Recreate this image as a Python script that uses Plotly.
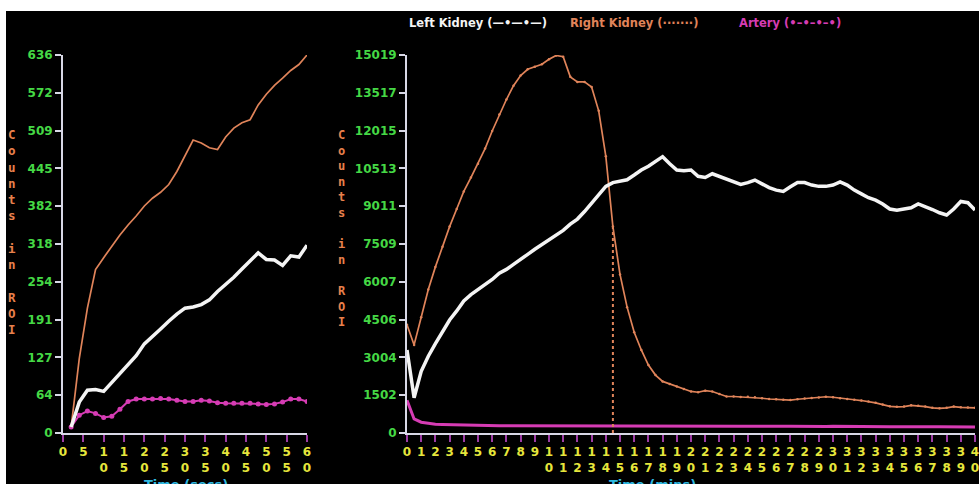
import plotly.graph_objects as go

# ---------------- data ----------------
# Left panel: first minute (seconds)
sec_times = [2 * i for i in range(1, 31)]  # 2..60 s
left_kidney_sec = [10, 52, 72, 73, 70, 85, 100, 115, 130, 150, 162, 175, 188, 200, 210,
                   212, 216, 224, 238, 250, 262, 276, 290, 303, 292, 291, 282, 298, 296, 316]
right_kidney_sec = [10, 125, 210, 275, 295, 315, 333, 350, 365, 382, 395, 405, 418, 440, 466,
                    493, 488, 480, 477, 498, 513, 522, 527, 552, 570, 585, 597, 610, 620, 636]
artery_sec = [10, 30, 37, 33, 26, 28, 40, 53, 57, 57, 57, 58, 57, 55, 53,
              53, 55, 54, 51, 50, 50, 50, 50, 49, 48, 49, 52, 57, 57, 53]

# Right panel: 0-40 minutes
min_times = [0.5 * i for i in range(81)]
left_kidney_min = [3300, 1400, 2450, 3050, 3550, 4050, 4490, 4850, 5250, 5500,
                   5700, 5880, 6100, 6350, 6500, 6700, 6880, 7100, 7300, 7480,
                   7650, 7850, 8050, 8300, 8500, 8800, 9150, 9500, 9800, 9950,
                   10000, 10060, 10250, 10450, 10600, 10800, 10980, 10700, 10450, 10420,
                   10450, 10200, 10150, 10300, 10200, 10100, 10000, 9880, 9950, 10050,
                   9900, 9750, 9650, 9600, 9780, 9950, 9950, 9850, 9800, 9800,
                   9850, 9980, 9850, 9650, 9500, 9350, 9250, 9100, 8900, 8850,
                   8900, 8950, 9100, 9000, 8880, 8750, 8660, 8900, 9200, 9150, 8860]
right_kidney_min = [4300, 3500, 4600, 5700, 6600, 7400, 8200, 8900, 9600, 10150,
                    10700, 11300, 12000, 12650, 13250, 13800, 14200, 14450, 14550, 14650,
                    14850, 15000, 14950, 14150, 13950, 13950, 13750, 12800, 11000, 8200,
                    6300, 5000, 4000, 3300, 2700, 2300, 2050, 1950, 1850, 1750,
                    1650, 1620, 1680, 1650, 1550, 1450, 1450, 1430, 1440, 1420,
                    1380, 1350, 1340, 1320, 1310, 1340, 1370, 1390, 1410, 1440,
                    1420, 1380, 1350, 1320, 1290, 1250, 1200, 1130, 1060, 1040,
                    1050, 1100, 1080, 1050, 1000, 980, 1000, 1050, 1020, 1010, 1000]
artery_min = [1300, 560, 430, 380, 350, 340, 330, 320, 310, 300,
              300, 295, 290, 290, 285, 285, 280, 285, 280, 275,
              280, 285, 290, 285, 280, 280, 275, 280, 285, 290,
              280, 275, 275, 270, 280, 290, 285, 280, 275, 270,
              275, 280, 275, 270, 300, 285, 275, 270, 265, 270,
              265, 260, 265, 270, 265, 260, 265, 260, 255, 260,
              265, 260, 255, 255, 260, 255, 250, 255, 250, 250,
              255, 250, 245, 250, 250, 245, 250, 245, 240, 245, 240]
marker_time = 14.5
marker_value = 8200

assert len(left_kidney_sec) == len(sec_times) == len(right_kidney_sec) == len(artery_sec)
assert len(left_kidney_min) == len(min_times) == len(right_kidney_min) == len(artery_min)

left_ymax = 636
right_ymax = 15019
left_yticks = [left_ymax * i / 10 for i in range(11)]
right_yticks = [right_ymax * i / 10 for i in range(11)]
left_ytext = ["0", "64", "127", "191", "254", "318", "382", "445", "509", "572", "636"]
right_ytext = ["0", "1502", "3004", "4506", "6007", "7509", "9011", "10513", "12015", "13517", "15019"]

left_xticks = list(range(0, 61, 5))
right_xticks = list(range(0, 41))


def two_row(n):
    s = str(n)
    return s if len(s) == 1 else s[0] + "<br>" + s[1]


left_xtext = [two_row(v) for v in left_xticks]
right_xtext = [two_row(v) for v in right_xticks]

# ---------------- styling ----------------
WHITE = "#f4f4f4"
ORANGE = "#e0845a"
MAGENTA = "#d63cb4"
GREEN = "#45d845"
YELLOW = "#e6e63c"
CYAN = "#2fb8e0"
TITLE_ORANGE = "#e8804c"
AXIS = "#d8d8e6"
XTICK = "#9c3ca4"

W, H = 979, 484


def px_x(x):
    return x / W


def px_y(y):
    return 1 - y / H


fig = go.Figure()

# left panel traces
fig.add_trace(go.Scatter(x=sec_times, y=artery_sec, mode="lines+markers",
                         line=dict(color=MAGENTA, width=2), marker=dict(color=MAGENTA, size=5),
                         xaxis="x", yaxis="y", showlegend=False))
fig.add_trace(go.Scatter(x=sec_times, y=right_kidney_sec, mode="lines",
                         line=dict(color=ORANGE, width=1.7),
                         xaxis="x", yaxis="y", showlegend=False))
fig.add_trace(go.Scatter(x=sec_times, y=left_kidney_sec, mode="lines",
                         line=dict(color=WHITE, width=3.5),
                         xaxis="x", yaxis="y", showlegend=False))

# right panel traces
fig.add_trace(go.Scatter(x=min_times, y=artery_min, mode="lines",
                         line=dict(color=MAGENTA, width=3),
                         xaxis="x2", yaxis="y2", showlegend=False))
fig.add_trace(go.Scatter(x=[marker_time, marker_time], y=[0, marker_value], mode="lines",
                         line=dict(color=ORANGE, width=2, dash="dot"),
                         xaxis="x2", yaxis="y2", showlegend=False))
fig.add_trace(go.Scatter(x=min_times, y=right_kidney_min, mode="lines+markers",
                         line=dict(color=ORANGE, width=1.7), marker=dict(color=ORANGE, size=2.5),
                         xaxis="x2", yaxis="y2", showlegend=False))
fig.add_trace(go.Scatter(x=min_times, y=left_kidney_min, mode="lines",
                         line=dict(color=WHITE, width=3.5),
                         xaxis="x2", yaxis="y2", showlegend=False))

ydom = [px_y(433), px_y(55)]
tickfont_y = dict(family="DejaVu Sans", size=12, color=GREEN, weight="bold")
tickfont_x = dict(family="DejaVu Sans", size=12, color=YELLOW, weight="bold")

common_x = dict(showgrid=False, zeroline=False, showline=True, linecolor=AXIS, linewidth=2,
                ticks="outside", ticklen=7, tickwidth=2, tickcolor=XTICK, automargin=False,
                ticklabeloverflow="allow",
                tickfont=tickfont_x, tickmode="array", tickangle=0)
common_y = dict(showgrid=False, zeroline=False, showline=True, linecolor=AXIS, linewidth=2,
                ticks="outside", ticklen=6, tickwidth=2, tickcolor=AXIS, automargin=False,
                ticklabeloverflow="allow",
                tickfont=tickfont_y, tickmode="array")

fig.update_layout(
    width=W, height=H, autosize=False,
    margin=dict(l=0, r=0, t=0, b=0, pad=0, autoexpand=False),
    paper_bgcolor="white", plot_bgcolor="black",
    xaxis=dict(domain=[px_x(63), px_x(307)], range=[0, 60], anchor="y",
               tickvals=left_xticks, ticktext=left_xtext, **common_x),
    yaxis=dict(domain=ydom, range=[0, left_ymax], anchor="x",
               tickvals=left_yticks, ticktext=left_ytext, **common_y),
    xaxis2=dict(domain=[px_x(407), px_x(975)], range=[0, 40], anchor="y2",
                tickvals=right_xticks, ticktext=right_xtext, **common_x),
    yaxis2=dict(domain=ydom, range=[0, right_ymax], anchor="x2",
                tickvals=right_yticks, ticktext=right_ytext, **common_y),
    shapes=[dict(type="rect", xref="paper", yref="paper", layer="below",
                 x0=px_x(6), x1=1, y0=0, y1=px_y(11),
                 fillcolor="black", line=dict(width=0))],
)

vtitle = "C<br>o<br>u<br>n<br>t<br>s<br> <br>i<br>n<br> <br>R<br>O<br>I"
ann = []
ann.append(dict(x=px_x(12), y=px_y(232.5), xref="paper", yref="paper", text=vtitle,
                showarrow=False, xanchor="center", yanchor="middle",
                font=dict(family="DejaVu Sans Mono", size=12.5, color=TITLE_ORANGE, weight="bold")))
ann.append(dict(x=px_x(342), y=px_y(229), xref="paper", yref="paper", text=vtitle,
                showarrow=False, xanchor="center", yanchor="middle",
                font=dict(family="DejaVu Sans Mono", size=12, color=TITLE_ORANGE, weight="bold")))
ann.append(dict(x=px_x(186), y=px_y(475), xref="paper", yref="paper", text="Time (secs)",
                showarrow=False, xanchor="center", yanchor="top",
                font=dict(family="DejaVu Sans", size=13, color=CYAN, weight="bold")))
ann.append(dict(x=px_x(652), y=px_y(475), xref="paper", yref="paper", text="Time (mins)",
                showarrow=False, xanchor="center", yanchor="top",
                font=dict(family="DejaVu Sans", size=13, color=CYAN, weight="bold")))
legend_items = [("Left Kidney (—•—•—)", WHITE, 407),
                ("Right Kidney (·······)", ORANGE, 568),
                ("Artery (•–•–•–•)", MAGENTA, 737)]
for txt, col, xl in legend_items:
    ann.append(dict(x=px_x(xl), y=px_y(23), xref="paper", yref="paper", text=txt,
                    showarrow=False, xanchor="left", yanchor="middle",
                    font=dict(family="DejaVu Sans", size=11.5, color=col, weight="bold")))
fig.update_layout(annotations=ann)

fig.write_html("out.html", config={"displayModeBar": False},
               post_script="document.body.style.margin='0';")
